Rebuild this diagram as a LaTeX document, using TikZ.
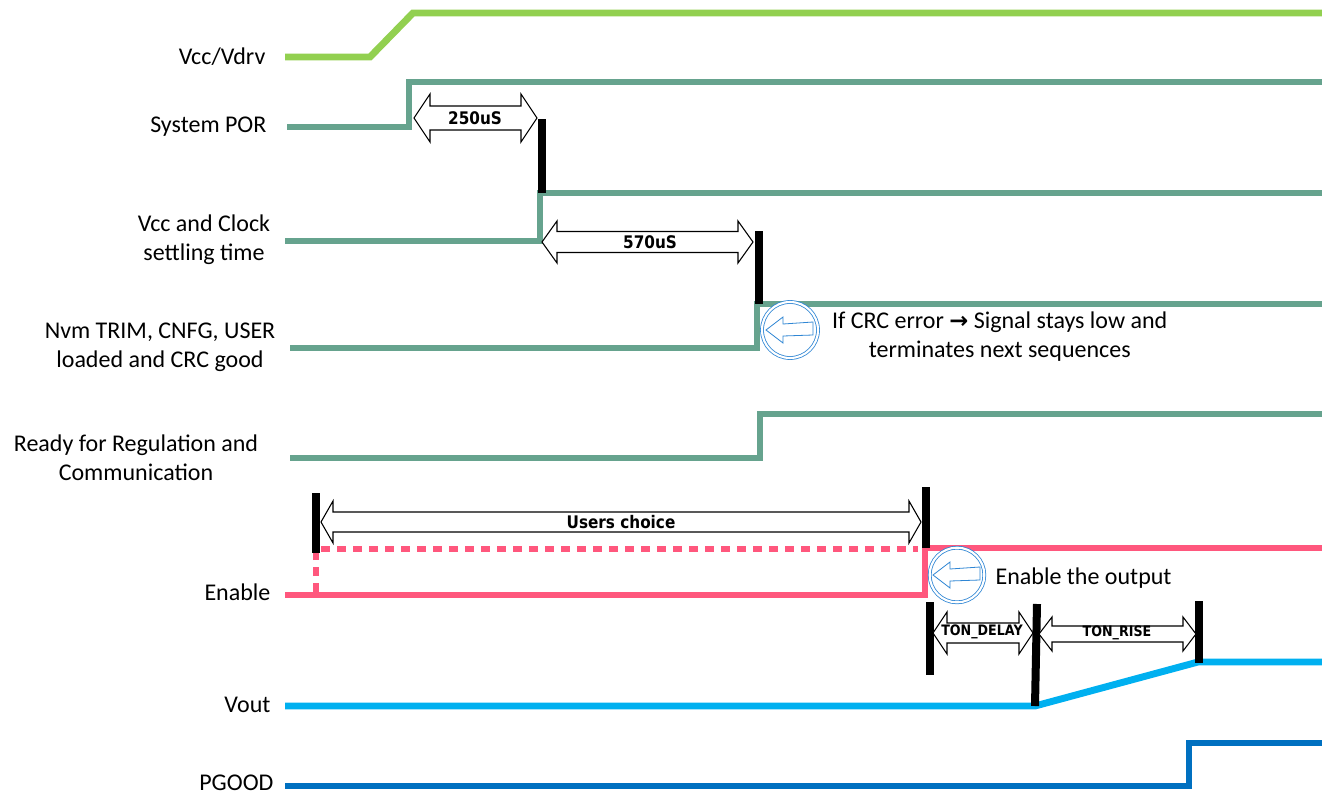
\documentclass[tikz,border=0pt]{standalone}
\usepackage{fontspec}
\setmainfont{Carlito}
\newfontfamily\arrowfont{DejaVu Sans}[FakeStretch=0.88]
\newfontfamily\symfont{DejaVu Sans}
\usetikzlibrary{positioning}

\definecolor{vccgreen}{HTML}{92D050}
\definecolor{systeal}{HTML}{66A38E}
\definecolor{enpink}{HTML}{FF577D}
\definecolor{voutcyan}{HTML}{00B0F0}
\definecolor{pgblue}{HTML}{0070C0}
\definecolor{ringblue}{HTML}{2F86D4}

\tikzset{
  sig/.style={line width=5.2pt, line join=miter},
  bar/.style={line width=6pt, black},
  lbl/.style={align=center, inner sep=1pt, font=\fontsize{18}{22}\selectfont},
  blk/.style={draw=black, fill=white, line width=0.8pt, line join=miter},
  tag/.style={inner sep=0pt, font=\arrowfont\bfseries\fontsize{13}{15}\selectfont},
  smalltag/.style={tag, font=\arrowfont\bfseries\fontsize{10.8}{12}\selectfont},
  ring/.style={circle, draw=ringblue, line width=0.6pt, double=white,
    double distance=1.6pt, fill=white, inner sep=0pt},
  ptr/.style={draw=ringblue, line width=0.6pt, line join=miter},
}

% double block arrow: left x, right x, y, shaft half height, head half height, head length
\newcommand{\dblarrow}[6]{%
  \draw[blk] (#1,#3) -- ++(#6,-#5) -- ++(0,#5-#4) -- (#2-#6,#3-#4)
    -- ++(0,#4-#5) -- (#2,#3) -- ++(-#6,#5) -- ++(0,#4-#5)
    -- (#1+#6,#3+#4) -- ++(0,#5-#4) -- cycle;}

% hollow left pointer inside a ring
\newcommand{\leftpointer}[1]{%
  \draw[ptr] ([shift={(-24,0)}]#1.center) -- ++(17,-13) -- ++(0,7)
    -- ++(30,-2) -- ++(0,13) -- ++(-30,1) -- ++(0,7) -- cycle;}

\begin{document}
\begin{tikzpicture}[x=0.75pt, y=-0.75pt]
\useasboundingbox (0,0) rectangle (1322,796);

% signal names
\node[lbl, anchor=east] (vcc) at (267,57) {Vcc/Vdrv};
\node[lbl, anchor=east] (por) at (268,127) {System POR};
\node[lbl] (clk) at (204,240) {Vcc and Clock\\settling time};
\node[lbl] (nvm) at (160,347) {Nvm TRIM, CNFG, USER\\loaded and CRC good};
\node[lbl] (rdy) at (136,458) {Ready for Regulation and\\Communication};
\node[lbl, anchor=east] (en) at (272,592) {Enable};
\node[lbl, anchor=east] (vout) at (272,705) {Vout};
\node[lbl, anchor=east] (pg) at (275,783) {PGOOD};

% waveforms
\draw[sig, vccgreen] (285,57) -- (370,57) -- (413,13) -- (1322,13);
\draw[sig, systeal] (287,127) -- (409,127) -- (409,82) -- (1322,82);
\draw[sig, systeal] (285,241) -- (540,241) -- (540,193) -- (1322,193);
\draw[sig, systeal] (290,348) -- (757,348) -- (757,304) -- (1322,304);
\draw[sig, systeal] (290,458) -- (760,458) -- (760,414) -- (1322,414);
\draw[sig, enpink] (285,595) -- (925,595) -- (925,548) -- (1322,548);
\draw[sig, enpink, dash pattern=on 6.8pt off 5.2pt] (316,592) -- (316,553);
\draw[sig, enpink, dash pattern=on 6.8pt off 5.2pt] (321,549) -- (918,549);
\draw[sig, voutcyan] (285,706) -- (1035,706) -- (1198,662) -- (1322,662);
\draw[sig, pgblue] (285,786) -- (1189,786) -- (1189,743) -- (1322,743);

% timing markers
\draw[bar] (542,119) -- (542,193);
\draw[bar] (759,231) -- (759,304);
\draw[bar] (316,493) -- (316,553);
\draw[bar] (926,487) -- (926,548);
\draw[bar] (930,602) -- (930,675);
\draw[bar] (1037,604) -- (1035,706);
\draw[bar] (1199,601) -- (1199,663);

% intervals
\dblarrow{414}{537}{118}{12}{24}{16}
\node[tag] (t250) at (475,118) {250uS};
\dblarrow{542}{753}{242}{10.5}{21}{15}
\node[tag] (t570) at (650,242) {570uS};
\dblarrow{321}{921}{522}{10}{21}{12}
\node[tag] (tusr) at (621,522) {Users choice};
\dblarrow{933}{1033}{633}{10}{21}{14}
\node[smalltag] (tdly) at (982,632) {TON\_DELAY};
\dblarrow{1039}{1196}{634}{8}{17}{13}
\node[smalltag] (trise) at (1117,633) {TON\_RISE};

% notes
\node[ring, minimum size=42pt] (crc) at (790,330) {};
\leftpointer{crc}
\node[lbl, right=9pt of crc, yshift=-5pt] (crcnote)
  {If CRC error {\symfont\bfseries\fontsize{17}{17}\selectfont →} Signal stays low and\\terminates next sequences};
\node[ring, minimum size=41pt] (ena) at (957,575) {};
\leftpointer{ena}
\node[lbl, right=7pt of ena, yshift=-2pt] (enanote) {Enable the output};
\end{tikzpicture}
\end{document}
